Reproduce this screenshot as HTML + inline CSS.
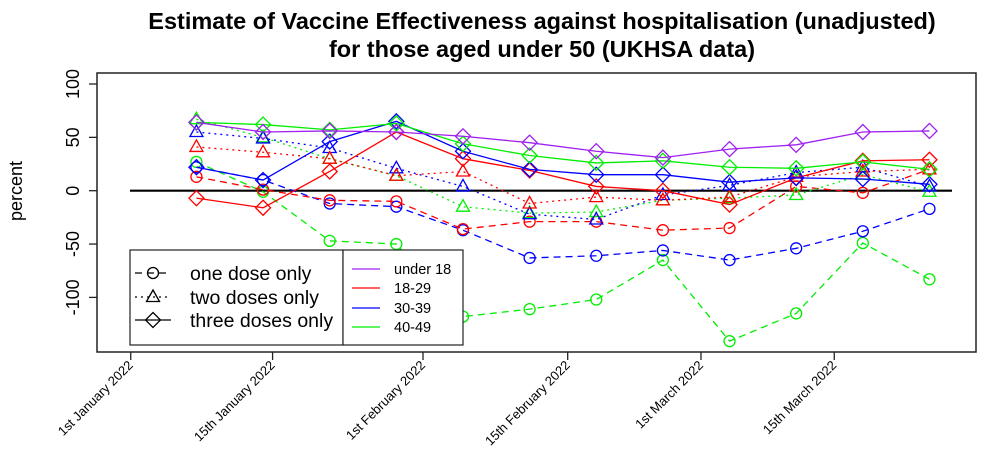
<!DOCTYPE html>
<html><head><meta charset="utf-8"><style>
body{margin:0;background:#fff;}
svg{display:block;font-family:"Liberation Sans",sans-serif;}
</style></head><body>
<svg id="c" width="1004" height="473"></svg>
<script>
const weeks = [6,13,20,27,34,41,48,55,62,69,76,83];
const tickDays = [-0.9,14,29.8,45,59,73];
const tickLabels = ["1st January 2022","15th January 2022","1st February 2022","15th February 2022","1st March 2022","15th March 2022"];
const yTicks = [100,50,0,-50,-100];
const under18Three = [64,55,56,55,51,45,37,31,39,43,55,56];
const r1829One = [13,1,-9,-10,-36,-29,-29,-37,-35,4,-2,20];
const r1829Two = [41,36,30,14,18,-12,-6,-9,-6,13,18,20];
const r1829Three = [-7,-16,18,55,30,19,4,0,-13,12,28,29];
const r3039One = [22,10,-12,-15,-37,-63,-61,-56,-65,-54,-38,-17];
const r3039Two = [55,49,40,21,4,-22,-27,-4,5,17,22,4];
const r3039Three = [22,10,46,65,37,20,15,15,8,12,11,6];
const r4049One = [27,-1,-47,-50,-118,-111,-102,-65,-141,-115,-49,-83];
const r4049Two = [67,50,30,14,-15,-21,-20,-9,-7,-4,15,-1];
const r4049Three = [64,62,57,63,44,33,26,28,22,21,27,20];

const NS="http://www.w3.org/2000/svg";
const svg=document.getElementById('c');
function X(d){return 139.3+d*9.52;}
function Y(v){return 190.7-v*1.067;}
function mk(tag,attrs,parent){const e=document.createElementNS(NS,tag);for(const k in attrs)e.setAttribute(k,attrs[k]);(parent||svg).appendChild(e);return e;}

let t=mk('text',{x:542,y:29,'text-anchor':'middle','font-size':23.5,'font-weight':'bold'});t.textContent="Estimate of Vaccine Effectiveness against hospitalisation (unadjusted)";


t=mk('text',{x:542,y:57,'text-anchor':'middle','font-size':23.5,'font-weight':'bold'});t.textContent="for those aged under 50 (UKHSA data)";


let b=mk('rect',{x:97,y:73,width:879,height:279,fill:'none',stroke:'#222','stroke-width':1.5});


let yl=mk('text',{transform:'translate(22,191) rotate(-90)','text-anchor':'middle','font-size':18});yl.textContent="percent";


yTicks.forEach(v=>{
  mk('line',{x1:89,x2:97,y1:Y(v),y2:Y(v),stroke:'#222','stroke-width':1.3});
  const e=mk('text',{transform:`translate(79,${Y(v)}) rotate(-90)`,'text-anchor':'middle','font-size':18});e.textContent=v;
  
  
});
tickDays.forEach((d,i)=>{
  mk('line',{x1:X(d),x2:X(d),y1:352,y2:360,stroke:'#222','stroke-width':1.3});
  const e=mk('text',{transform:`translate(${X(d)+3},366) rotate(-45)`,'text-anchor':'end','font-size':13});e.textContent=tickLabels[i];
  
  
});
let z=mk('line',{x1:130,x2:952,y1:Y(0),y2:Y(0),stroke:'#000','stroke-width':2.2});



function marker(type,x,y,col,g){
  if(type==='circle')mk('circle',{cx:x,cy:y,r:5.5,fill:'none',stroke:col,'stroke-width':1.3},g);
  else if(type==='tri')mk('polygon',{points:`${x},${y-7} ${x-6.5},${y+4.5} ${x+6.5},${y+4.5}`,fill:'none',stroke:col,'stroke-width':1.3},g);
  else mk('polygon',{points:`${x},${y-7.5} ${x+7.5},${y} ${x},${y+7.5} ${x-7.5},${y}`,fill:'none',stroke:col,'stroke-width':1.3},g);
}
const dash={circle:'7,5',tri:'2,4',diamond:''};
function series(vals,col,type,name){
  const g=mk('g',{});
  
  
  const pts=vals.map((v,i)=>X(weeks[i])+','+Y(v)).join(' ');
  mk('polyline',{points:pts,fill:'none',stroke:col,'stroke-width':1.3,'stroke-dasharray':dash[type]},g);
  vals.forEach((v,i)=>marker(type,X(weeks[i]),Y(v),col,g));
}
const R='#ff0000',B='#0000ff',G='#00ee00',P='#a020f0';
series(r4049One,G,'circle','series-40-49-one-dose');
series(r3039One,B,'circle','series-30-39-one-dose');
series(r1829One,R,'circle','series-18-29-one-dose');
series(r4049Two,G,'tri','series-40-49-two-doses');
series(r3039Two,B,'tri','series-30-39-two-doses');
series(r1829Two,R,'tri','series-18-29-two-doses');
series(r1829Three,R,'diamond','series-18-29-three-doses');
series(r3039Three,B,'diamond','series-30-39-three-doses');
series(r4049Three,G,'diamond','series-40-49-three-doses');
series(under18Three,P,'diamond','series-under-18-three-doses');

const lg=mk('g',{});


mk('rect',{x:130,y:250,width:213,height:95,fill:'#fff',stroke:'#222','stroke-width':1.2},lg);
[['circle','one dose only',275],['tri','two doses only',299],['diamond','three doses only',322]].forEach(([ty,lab,y])=>{
  mk('line',{x1:135,x2:171,y1:y-2,y2:y-2,stroke:'#000','stroke-width':1.3,'stroke-dasharray':dash[ty]},lg);
  marker(ty,153,y-2,'#000',lg);
  const e=mk('text',{x:190,y:y+5,'font-size':19.5},lg);e.textContent=lab;
  
  
});
const lg2=mk('g',{});


mk('rect',{x:343,y:250,width:120,height:95,fill:'#fff',stroke:'#222','stroke-width':1.2},lg2);
[[P,'under 18',269],[R,'18-29',288],[B,'30-39',308],[G,'40-49',327]].forEach(([c,lab,y])=>{
  mk('line',{x1:352,x2:380,y1:y,y2:y,stroke:c,'stroke-width':1.3},lg2);
  const e=mk('text',{x:394,y:y+5,'font-size':14.5},lg2);e.textContent=lab;
  
  
});
</script>
</body></html>
